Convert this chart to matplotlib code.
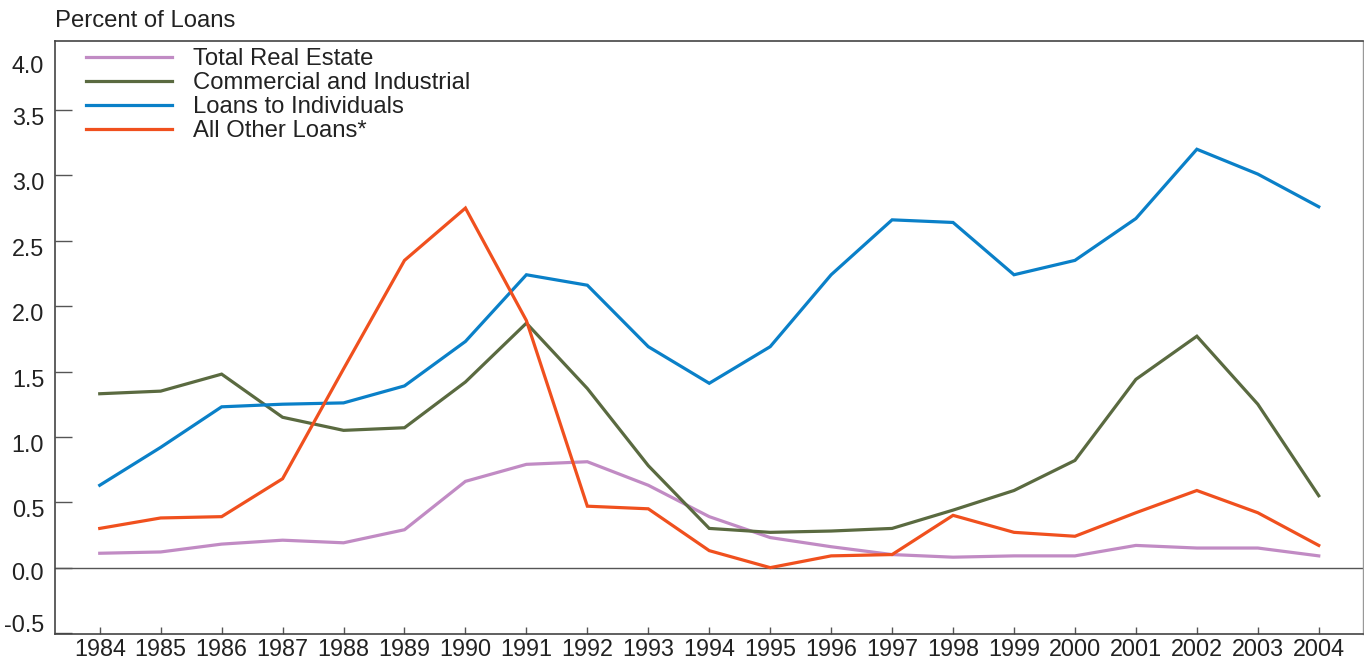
import matplotlib.pyplot as plt
import matplotlib.transforms as mtransforms

plt.rcParams['font.family'] = ['Liberation Sans', 'DejaVu Sans']

years = list(range(1984, 2005))

# percent of loans
real_estate = [0.11, 0.12, 0.18, 0.21, 0.19, 0.29, 0.66, 0.79, 0.81, 0.63, 0.39,
               0.23, 0.16, 0.10, 0.08, 0.09, 0.09, 0.17, 0.15, 0.15, 0.09]
commercial = [1.33, 1.35, 1.48, 1.15, 1.05, 1.07, 1.42, 1.87, 1.37, 0.78, 0.30,
              0.27, 0.28, 0.30, 0.44, 0.59, 0.82, 1.44, 1.77, 1.25, 0.55]
individuals = [0.63, 0.92, 1.23, 1.25, 1.26, 1.39, 1.73, 2.24, 2.16, 1.69, 1.41,
               1.69, 2.24, 2.66, 2.64, 2.24, 2.35, 2.67, 3.20, 3.01, 2.76]
other = [0.30, 0.38, 0.39, 0.68, 1.52, 2.35, 2.75, 1.89, 0.47, 0.45, 0.13,
         0.00, 0.09, 0.10, 0.40, 0.27, 0.24, 0.42, 0.59, 0.42, 0.17]

labels = ['Total Real Estate', 'Commercial and Industrial',
          'Loans to Individuals', 'All Other Loans*']
colors = ['#c18bc4', '#5a6a40', '#0a80c8', '#f0501e']
yticks = [-0.5, 0.0, 0.5, 1.0, 1.5, 2.0, 2.5, 3.0, 3.5, 4.0]

fig = plt.figure(figsize=(13.64, 6.62), dpi=100)
ax = fig.add_axes([0.0405, 0.0418, 0.9585, 0.8967])

for series, lab, col in zip([real_estate, commercial, individuals, other], labels, colors):
    ax.plot(years, series, color=col, lw=2.3, label=lab, solid_joinstyle='miter')

ax.axhline(0, color='#555555', lw=1.0, zorder=0)

ax.set_xlim(1983.27, 2004.72)
ax.set_ylim(-0.51, 4.03)
ax.set_xticks(years)
ax.set_yticks(yticks)
ax.set_yticklabels(['%.1f' % v for v in yticks])

ax.tick_params(axis='y', direction='in', length=12, width=1.0, color='#555555',
               labelsize=16.8, pad=8, labelcolor='#222222')
ax.tick_params(axis='x', direction='in', length=5, width=1.0, color='#555555',
               labelsize=16.8, pad=3, labelcolor='#222222')

# label offsets as in the original layout
shifts = {-0.5: 10, 0.0: -3, 4.0: -19}
for v, lab, tk in zip(yticks, ax.get_yticklabels(), ax.yaxis.get_major_ticks()):
    dy = shifts.get(v, -6) / 100.0
    lab.set_transform(lab.get_transform() + mtransforms.ScaledTranslation(0, dy, fig.dpi_scale_trans))
    if v == 4.0:
        tk.tick1line.set_visible(False)

for side in ['left', 'top', 'bottom']:
    ax.spines[side].set_color('#444444')
    ax.spines[side].set_linewidth(1.2)
ax.spines['right'].set_color('#999999')
ax.spines['right'].set_linewidth(1.0)

ax.legend(loc='upper left', bbox_to_anchor=(0.0104, 1.016), frameon=False,
          fontsize=17.2, handlelength=3.6, handletextpad=0.9, labelspacing=0.09,
          borderaxespad=0.3, labelcolor='#222222')

fig.text(55 / 1364, 1 - 21 / 662, 'Percent of Loans', fontsize=17.2,
         color='#222222', va='center', ha='left')

fig.savefig('out.png', dpi=100)
